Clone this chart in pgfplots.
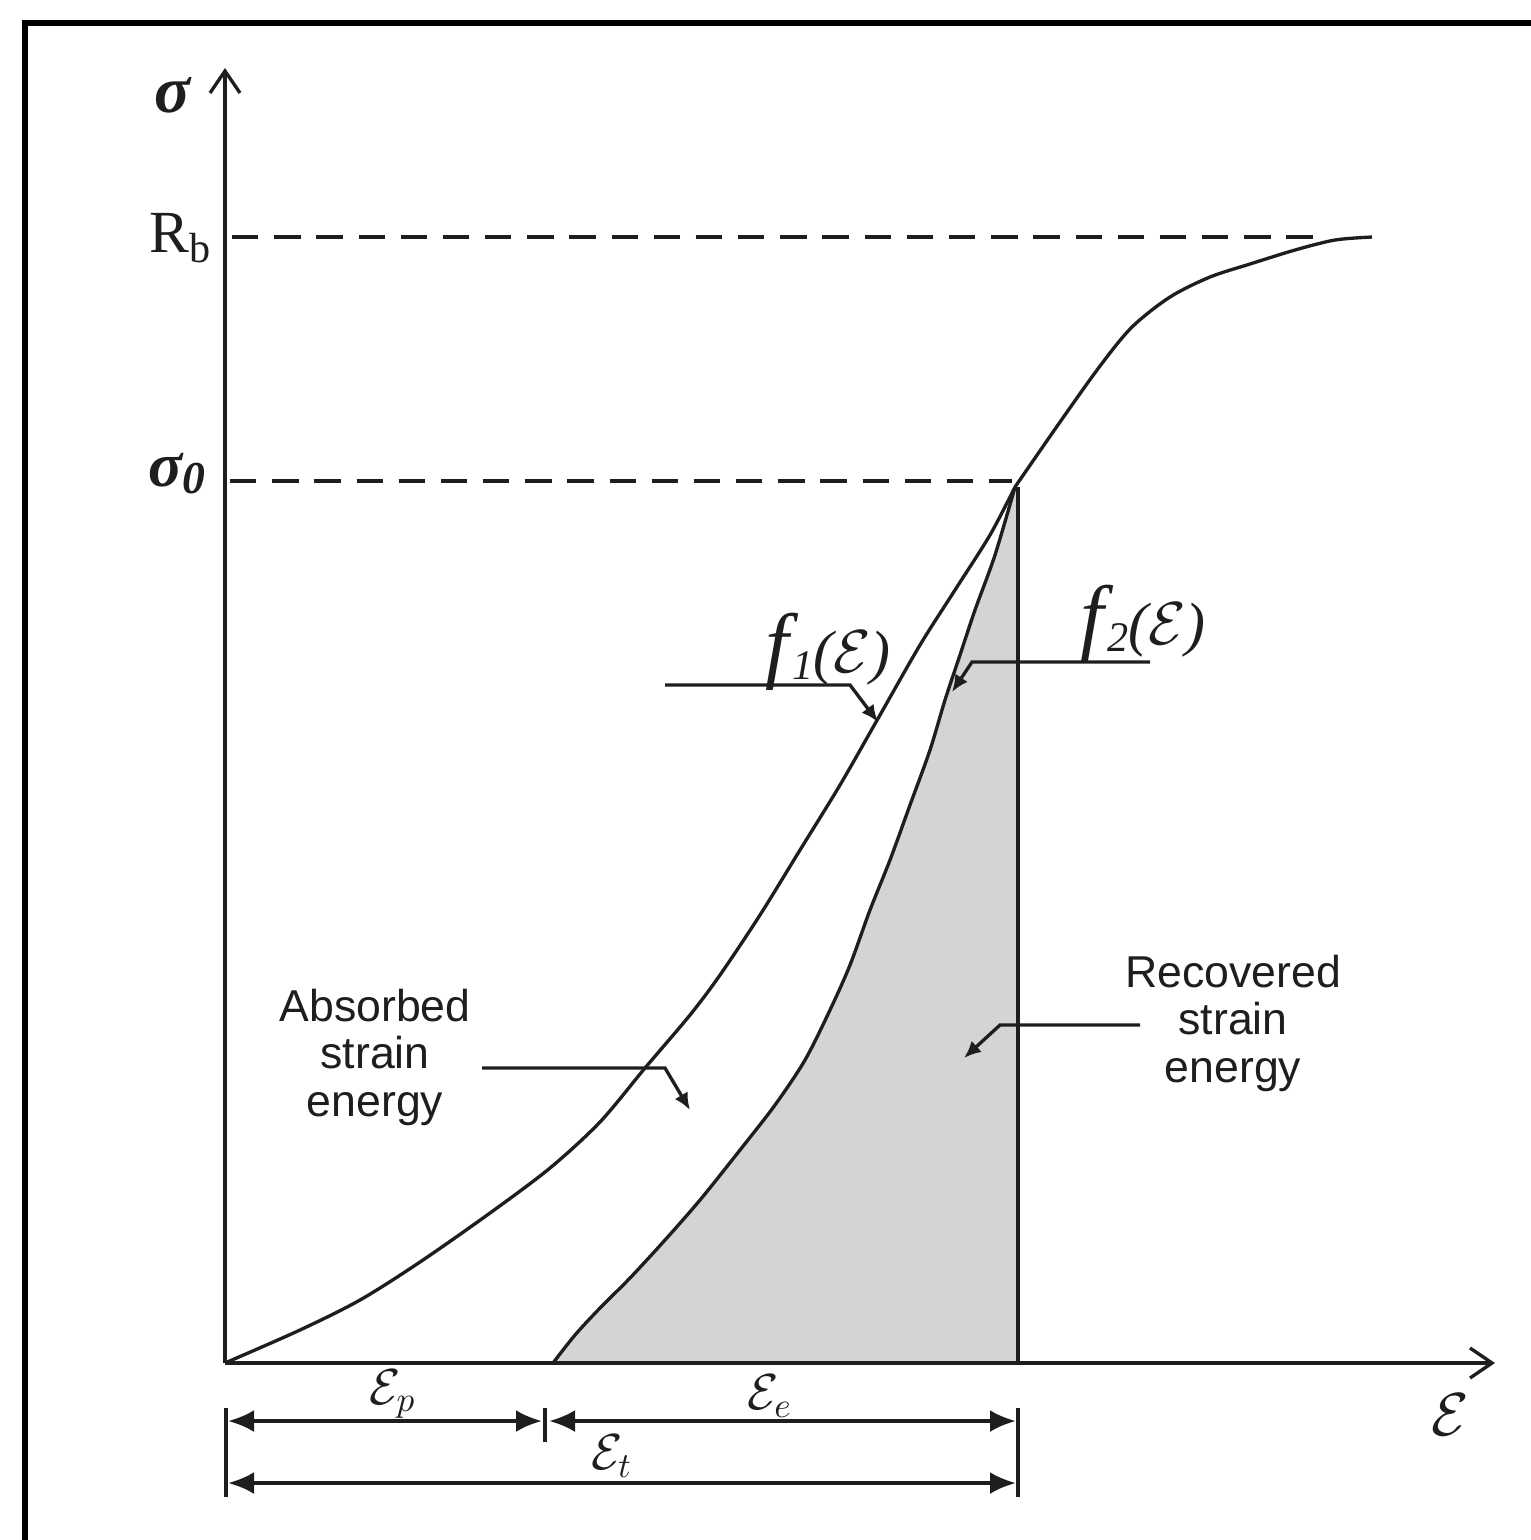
\documentclass[border=0pt]{standalone}
\usepackage{pgfplots}
\pgfplotsset{compat=1.18}
\usetikzlibrary{arrows.meta}
\usepackage{fontspec}
\setmainfont{Liberation Sans}
\newfontfamily\timesf{Liberation Serif}
\definecolor{ink}{HTML}{1E1E1E}
\definecolor{shade}{HTML}{D4D4D4}
\begin{document}
\begin{tikzpicture}
\begin{axis}[name=ax,
  width=153.1mm, height=154mm, scale only axis,
  xmin=0, xmax=1531, ymin=0, ymax=1540, y dir=reverse,
  axis lines=none, clip=false]
% shaded recovered energy region
\addplot[fill=shade, draw=none] coordinates {
(553,1363) (575,1335) (600,1308) (630,1278) (665,1240) (700,1200) (740,1150)
(775,1105) (805,1060) (830,1010) (850,965) (870,910) (890,860) (910,805)
(930,750) (945,700) (960,655) (975,610) (995,555) (1015,487) (1018,487) (1018,1363)} -- cycle;
% f2 curve
\addplot[ink, line width=0.95pt, smooth] coordinates {
(553,1363) (575,1335) (600,1308) (630,1278) (665,1240) (700,1200) (740,1150)
(775,1105) (805,1060) (830,1010) (850,965) (870,910) (890,860) (910,805)
(930,750) (945,700) (960,655) (975,610) (995,555) (1015,487)};
% f1 curve
\addplot[ink, line width=0.95pt, smooth] coordinates {
(225,1363) (300,1330) (360,1300) (420,1262) (490,1213) (550,1168) (600,1122)
(645,1068) (690,1015) (720,975) (760,915) (800,850) (840,785) (880,715)
(920,645) (955,590) (990,535) (1015,487)};
% continuation up to R_b
\addplot[ink, line width=0.95pt, smooth] coordinates {
(1015,487) (1060,422) (1100,366) (1132,327) (1170,297) (1210,277)
(1250,264) (1295,250) (1335,240) (1372,237)};
% vertical line at eps_t
\addplot[ink, line width=0.95pt] coordinates {(1018,487) (1018,1363)};
% dashed levels
\addplot[ink, line width=1.1pt, dash pattern=on 7.5pt off 4.5pt] coordinates {(232,237) (1318,237)};
\addplot[ink, line width=1.1pt, dash pattern=on 7.5pt off 4.5pt] coordinates {(230,481) (1012,481)};
% axes
\draw[ink, line width=0.95pt, -{Straight Barb[length=2.2mm, width=3mm]}] (axis cs:225,1363) -- (axis cs:225,68);
\draw[ink, line width=0.95pt, -{Straight Barb[length=2.2mm, width=3mm]}] (axis cs:225,1363) -- (axis cs:1495,1363);
\draw[ink, line width=1.3pt] (axis cs:553,1363) -- (axis cs:1018,1363);
% frame
\draw[black, line width=1.5pt] (axis cs:25,1620) -- (axis cs:25,23) -- (axis cs:1620,23);
% axis labels
\node[ink] at (axis cs:172,95) {\timesf\bfseries\itshape\fontsize{19}{19}\selectfont σ};
\node[ink] at (axis cs:180,238) {\timesf\fontsize{17}{17}\selectfont R\raisebox{-3pt}{\fontsize{12}{12}\selectfont b}};
\node[ink] at (axis cs:177,474) {\timesf\bfseries\itshape\fontsize{18}{18}\selectfont σ\raisebox{-2pt}{\fontsize{13}{13}\selectfont 0}};
\node[ink] at (axis cs:1450,1415) {\fontsize{17}{17}\selectfont$\mathcal{E}$};
% f labels
\node[ink] at (axis cs:828,652) {\timesf\itshape\fontsize{24}{24}\selectfont f\kern1pt\raisebox{-2pt}{\fontsize{12}{12}\selectfont 1}\fontsize{17}{17}\selectfont($\mathcal{E}$)};
\node[ink] at (axis cs:1143,624) {\timesf\itshape\fontsize{24}{24}\selectfont f\kern1pt\raisebox{-2pt}{\fontsize{12}{12}\selectfont 2}\fontsize{17}{17}\selectfont($\mathcal{E}$)};
\draw[ink, line width=0.95pt, -{Latex[length=1.7mm, width=1.5mm]}] (axis cs:665,685) -- (axis cs:850,685) -- (axis cs:878,722);
\draw[ink, line width=0.95pt, -{Latex[length=1.7mm, width=1.5mm]}] (axis cs:1150,662) -- (axis cs:972,662) -- (axis cs:952,692);
% energy labels
\node[ink, align=center, font=\fontsize{12.7}{13.5}\selectfont] at (axis cs:375,1057) {Absorbed\\strain\\energy};
\node[ink, align=center, font=\fontsize{12.7}{13.5}\selectfont] at (axis cs:1233,1023) {Recovered\\strain\\energy};
\draw[ink, line width=0.95pt, -{Latex[length=1.7mm, width=1.5mm]}] (axis cs:482,1068) -- (axis cs:665,1068) -- (axis cs:690,1110);
\draw[ink, line width=0.95pt, -{Latex[length=1.7mm, width=1.5mm]}] (axis cs:1140,1025) -- (axis cs:1000,1025) -- (axis cs:964,1058);
% dimension lines
\draw[ink, line width=0.95pt] (axis cs:226,1408) -- (axis cs:226,1497);
\draw[ink, line width=0.95pt] (axis cs:1018,1408) -- (axis cs:1018,1497);
\draw[ink, line width=0.95pt] (axis cs:545,1408) -- (axis cs:545,1442);
\draw[ink, line width=1.1pt, {Latex[length=2.6mm, width=2.2mm]}-{Latex[length=2.6mm, width=2.2mm]}] (axis cs:228,1421) -- (axis cs:542,1421);
\draw[ink, line width=1.1pt, {Latex[length=2.6mm, width=2.2mm]}-{Latex[length=2.6mm, width=2.2mm]}] (axis cs:549,1421) -- (axis cs:1016,1421);
\draw[ink, line width=1.1pt, {Latex[length=2.6mm, width=2.2mm]}-{Latex[length=2.6mm, width=2.2mm]}] (axis cs:228,1483) -- (axis cs:1016,1483);
\node[ink] at (axis cs:393,1394) {\fontsize{14}{14}\selectfont$\mathcal{E}_{p}$};
\node[ink] at (axis cs:770,1396) {\fontsize{14}{14}\selectfont$\mathcal{E}_{e}$};
\node[ink] at (axis cs:612,1456) {\fontsize{14}{14}\selectfont$\mathcal{E}_{t}$};
\end{axis}
\pgfresetboundingbox
\path (ax.south west) rectangle (ax.north east);
\end{tikzpicture}
\end{document}
